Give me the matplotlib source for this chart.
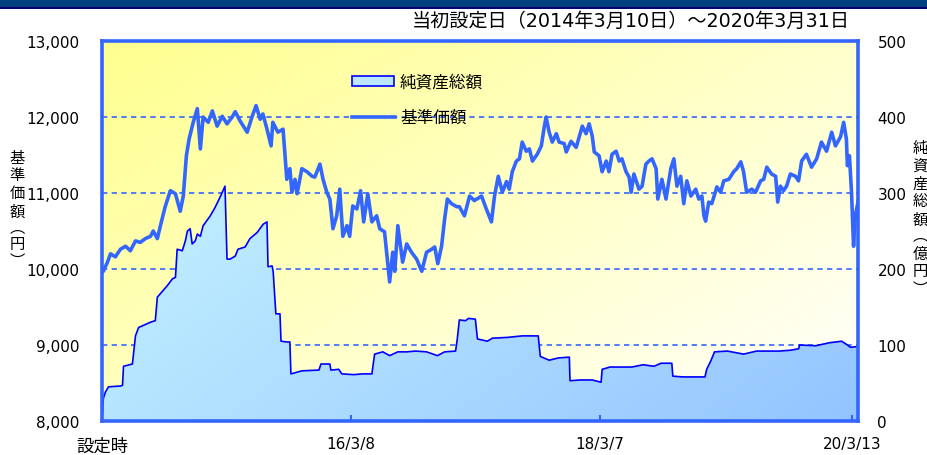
import datetime as dt
import numpy as np
import matplotlib
matplotlib.use("Agg")
import matplotlib.pyplot as plt
from matplotlib.patches import Rectangle
from matplotlib.lines import Line2D

plt.rcParams['font.family'] = ['DejaVu Sans', 'Noto Sans CJK JP']

# ---------------- data ----------------
launch_date = dt.date(2014, 3, 10)
end_date = dt.date(2020, 3, 31)

# 基準価額 (円): days since launch / value
price_days = [0, 4, 16, 25, 39, 54, 69, 83, 98, 112, 127, 142, 150, 162, 171, 185, 200, 215, 229, 238,
              247, 255, 267, 279, 288, 296, 311, 323, 337, 352, 366, 381, 390, 404, 425, 439, 451, 463, 471, 483,
              495, 500, 515, 530, 541, 550, 556, 565, 571, 585, 600, 615, 623, 638, 647, 658, 667, 676, 687, 696,
              705, 717, 725, 734, 746, 757, 766, 778, 790, 804, 813, 827, 842, 851, 857, 866, 880, 892, 906, 921,
              936, 950, 965, 974, 983, 994, 1003, 1011, 1023, 1038, 1046, 1061, 1076, 1090, 1111, 1125, 1140, 1149, 1160, 1172,
              1184, 1192, 1201, 1213, 1222, 1230, 1242, 1251, 1260, 1274, 1286, 1295, 1300, 1309, 1318, 1330, 1338, 1353, 1359, 1373,
              1388, 1397, 1406, 1417, 1426, 1435, 1441, 1455, 1464, 1476, 1484, 1493, 1505, 1514, 1522, 1534, 1543, 1549, 1557, 1572,
              1581, 1592, 1601, 1610, 1622, 1627, 1639, 1651, 1665, 1674, 1683, 1694, 1703, 1712, 1724, 1738, 1747, 1756, 1762, 1767,
              1776, 1785, 1800, 1811, 1820, 1835, 1849, 1858, 1870, 1878, 1887, 1902, 1913, 1928, 1937, 1946, 1960, 1972, 1978, 1986,
              1995, 2004, 2015, 2030, 2039, 2048, 2062, 2077, 2092, 2106, 2121, 2136, 2147, 2162, 2171, 2179, 2182, 2188, 2194, 2200,
              2205, 2213]
price_values = [10000, 9970, 10090, 10200, 10160, 10260, 10300, 10240, 10370, 10350, 10400, 10430, 10500, 10400, 10570, 10820, 11030, 10990, 10760, 10960,
                11490, 11710, 11930, 12110, 11580, 12000, 11930, 12080, 11880, 12010, 11910, 12000, 12070, 11950, 11800, 12000, 12150, 11970, 12040, 11840,
                11620, 11930, 11800, 11840, 11180, 11320, 11010, 11180, 10990, 11320, 11280, 11220, 11210, 11380, 11180, 11010, 10920, 10530, 10700, 11050,
                10430, 10570, 10430, 10830, 10790, 11030, 10620, 10990, 10620, 10700, 10530, 10490, 9830, 10220, 9970, 10570, 10090, 10330, 10220, 10130,
                9970, 10220, 10260, 10290, 10070, 10300, 10660, 10920, 10860, 10820, 10820, 10700, 10960, 10900, 10960, 10790, 10620, 10960, 11220, 11010,
                11150, 11050, 11280, 11420, 11450, 11670, 11550, 11580, 11420, 11510, 11620, 11880, 12000, 11800, 11670, 11780, 11670, 11650, 11540, 11680,
                11600, 11740, 11880, 11780, 11910, 11750, 11540, 11490, 11280, 11420, 11280, 11510, 11550, 11420, 11450, 11280, 11210, 11010, 11250, 11050,
                11090, 11380, 11420, 11450, 11320, 10920, 11180, 10920, 11320, 11450, 11090, 11220, 10860, 11160, 10960, 11050, 10920, 10960, 10700, 10630,
                10880, 10860, 11080, 11010, 11160, 11180, 11280, 11320, 11410, 11280, 11010, 11050, 11010, 11160, 11180, 11340, 11250, 11220, 10880, 11090,
                11030, 11090, 11250, 11220, 11160, 11420, 11510, 11340, 11450, 11670, 11550, 11800, 11620, 11740, 11930, 11710, 11360, 11490, 11010, 10300,
                10700, 10880]

# 純資産総額 (億円): days since launch / value
nav_days = [0, 4, 10, 19, 54, 60, 63, 89, 98, 107, 142, 156, 162, 191, 206, 215, 220, 235, 244, 250,
            258, 264, 273, 279, 288, 296, 317, 331, 346, 360, 366, 375, 390, 398, 419, 433, 454, 472, 483, 486,
            498, 501, 509, 521, 524, 541, 550, 553, 585, 635, 641, 667, 670, 693, 702, 737, 763, 790, 798, 822,
            842, 866, 892, 918, 950, 982, 1003, 1035, 1040, 1046, 1064, 1073, 1093, 1099, 1128, 1143, 1187, 1230, 1277, 1283,
            1309, 1336, 1368, 1370, 1400, 1435, 1461, 1464, 1487, 1519, 1551, 1584, 1616, 1636, 1668, 1671, 1700, 1732, 1765, 1770,
            1782, 1793, 1831, 1878, 1916, 1981, 2013, 2039, 2042, 2089, 2130, 2165, 2179, 2191, 2213]
nav_values = [0, 30, 38, 45, 46, 47, 72, 75, 112, 123, 130, 132, 163, 178, 187, 189, 226, 224, 237, 250,
              253, 233, 237, 246, 243, 257, 270, 281, 295, 309, 213, 213, 217, 226, 229, 240, 248, 259, 262, 203,
              204, 197, 141, 141, 105, 104, 104, 62, 66, 67, 75, 75, 67, 68, 62, 61, 62, 62, 88, 91,
              86, 91, 91, 92, 91, 86, 91, 92, 108, 133, 132, 135, 134, 108, 105, 109, 110, 112, 112, 85,
              80, 83, 84, 53, 54, 54, 51, 68, 71, 71, 71, 74, 72, 76, 76, 59, 58, 58, 58, 68,
              79, 91, 92, 88, 92, 92, 93, 95, 100, 99, 103, 105, 101, 97, 98]

x_tick_dates = [dt.date(2014, 3, 10), dt.date(2016, 3, 8), dt.date(2018, 3, 7), dt.date(2020, 3, 13)]
x_tick_labels = ['設定時', '16/3/8', '18/3/7', '20/3/13']
left_ticks = [8000, 9000, 10000, 11000, 12000, 13000]
right_ticks = [0, 100, 200, 300, 400, 500]
title_text = '当初設定日（2014年3月10日）～2020年3月31日'
left_label_chars = ['基', '準', '価', '額', '︵', '円', '︶']
right_label_chars = ['純', '資', '産', '総', '額', '︵', '億', '円', '︶']
legend_labels = ['純資産総額', '基準価額']

price_dates = [launch_date + dt.timedelta(days=d) for d in price_days]
nav_dates = [launch_date + dt.timedelta(days=d) for d in nav_days]

# ---------------- figure ----------------
W, H = 928, 456
fig = plt.figure(figsize=(W / 100, H / 100), dpi=100)
fig.patch.set_facecolor('white')

def fx(px):
    return px / W

def fy(py):
    return 1 - py / H

ax = fig.add_axes([fx(102), fy(422), fx(858) - fx(102), fy(42) - fy(422)])
ax2 = ax.twinx()
ax.set_zorder(2)
ax.patch.set_visible(False)
ax2.set_zorder(1)

BLUE = '#3366FF'

# background gradient (yellow top-left -> white bottom-right)
gx, gy = np.meshgrid(np.linspace(0, 1, 400), np.linspace(0, 1, 200))
t = np.clip(0.55 * gx + 0.45 * gy, 0, 1)
c0 = np.array([1.0, 1.0, 0.56])
c1 = np.array([1.0, 1.0, 1.0])
bg = c0[None, None, :] * (1 - t[..., None]) + c1[None, None, :] * t[..., None]
ax2.imshow(bg, extent=(0, 1, 0, 1), transform=ax2.transAxes, aspect='auto',
           zorder=0, interpolation='bilinear')

# grid lines
for v in right_ticks[1:-1]:
    ax2.axhline(v, color=BLUE, lw=1.2, ls=(0, (3.2, 2.6)), zorder=1)

# net assets area with gradient
poly = ax2.fill_between(nav_dates, 0, nav_values, facecolor='none', edgecolor='none', zorder=2)
ta = np.clip(0.6 * gx + 0.4 * gy, 0, 1)
f0 = np.array([0.80, 0.98, 1.0])
f1 = np.array([0.58, 0.77, 1.0])
fg = f0[None, None, :] * (1 - ta[..., None]) + f1[None, None, :] * ta[..., None]
im = ax2.imshow(fg, extent=(0, 1, 0, 1), transform=ax2.transAxes, aspect='auto',
                zorder=2, interpolation='bilinear')
im.set_clip_path(poly.get_paths()[0], transform=ax2.transData)
ax2.plot(nav_dates, nav_values, color='#0000FF', lw=1.2, zorder=3)

# price line
ax.plot(price_dates, price_values, color=BLUE, lw=2.6, zorder=3, solid_joinstyle='round')

# limits & ticks
ax.set_xlim(launch_date, end_date)
ax2.set_xlim(launch_date, end_date)
ax.set_ylim(8000, 13000)
ax2.set_ylim(0, 500)
ax2.set_aspect('auto')

ax.set_yticks(left_ticks, labels=[f'{v:,}' for v in left_ticks])
ax.tick_params(axis='y', length=0, pad=16, labelsize=11)
ax2.set_yticks(right_ticks, labels=[str(v) for v in right_ticks])
ax2.tick_params(axis='y', length=0, pad=14, labelsize=11)
ax.set_xticks(x_tick_dates, labels=x_tick_labels)
ax.tick_params(axis='x', direction='in', length=4, width=1.5, color=BLUE, pad=11, labelsize=11)
ax.get_xticklabels()[0].set_fontsize(12.5)

for s in ax.spines.values():
    s.set_color(BLUE)
    s.set_linewidth(2.6)
for s in ax2.spines.values():
    s.set_visible(False)

# header band
fig.add_artist(Rectangle((0, fy(7.5)), 1, 7.5 / H, transform=fig.transFigure,
                         facecolor='#00407F', edgecolor='none', zorder=5))
fig.add_artist(Rectangle((0, fy(9.5)), 1, 2 / H, transform=fig.transFigure,
                         facecolor='#00006E', edgecolor='none', zorder=5))

# title
fig.text(fx(850), fy(21), title_text, ha='right', va='center', fontsize=13.8, zorder=5)

# vertical axis labels (stacked characters, one text each)
for ch, py in zip(left_label_chars, [158, 176, 194, 212, 228, 245, 261]):
    fig.text(fx(17), fy(py), ch, ha='center', va='center', fontsize=11,
             family='Noto Sans CJK JP', zorder=5)
for ch, py in zip(right_label_chars, [148, 166, 184, 202, 220, 236, 254, 272, 289]):
    fig.text(fx(920), fy(py), ch, ha='center', va='center', fontsize=11,
             family='Noto Sans CJK JP', zorder=5)

# legend
fig.add_artist(Rectangle((fx(352), fy(87)), 42 / W, 10 / H, transform=fig.transFigure,
                         facecolor='#BDE6FF', edgecolor='#0000FF', lw=1.2, zorder=6))
fig.text(fx(400), fy(82), legend_labels[0], ha='left', va='center', fontsize=12, zorder=6)
fig.add_artist(Line2D([fx(352), fx(395)], [fy(118), fy(118)], transform=fig.transFigure,
                      color=BLUE, lw=2.6, zorder=6))
fig.text(fx(400), fy(118), legend_labels[1], ha='left', va='center', fontsize=12, zorder=6)

fig.savefig('out.png', dpi=100)
